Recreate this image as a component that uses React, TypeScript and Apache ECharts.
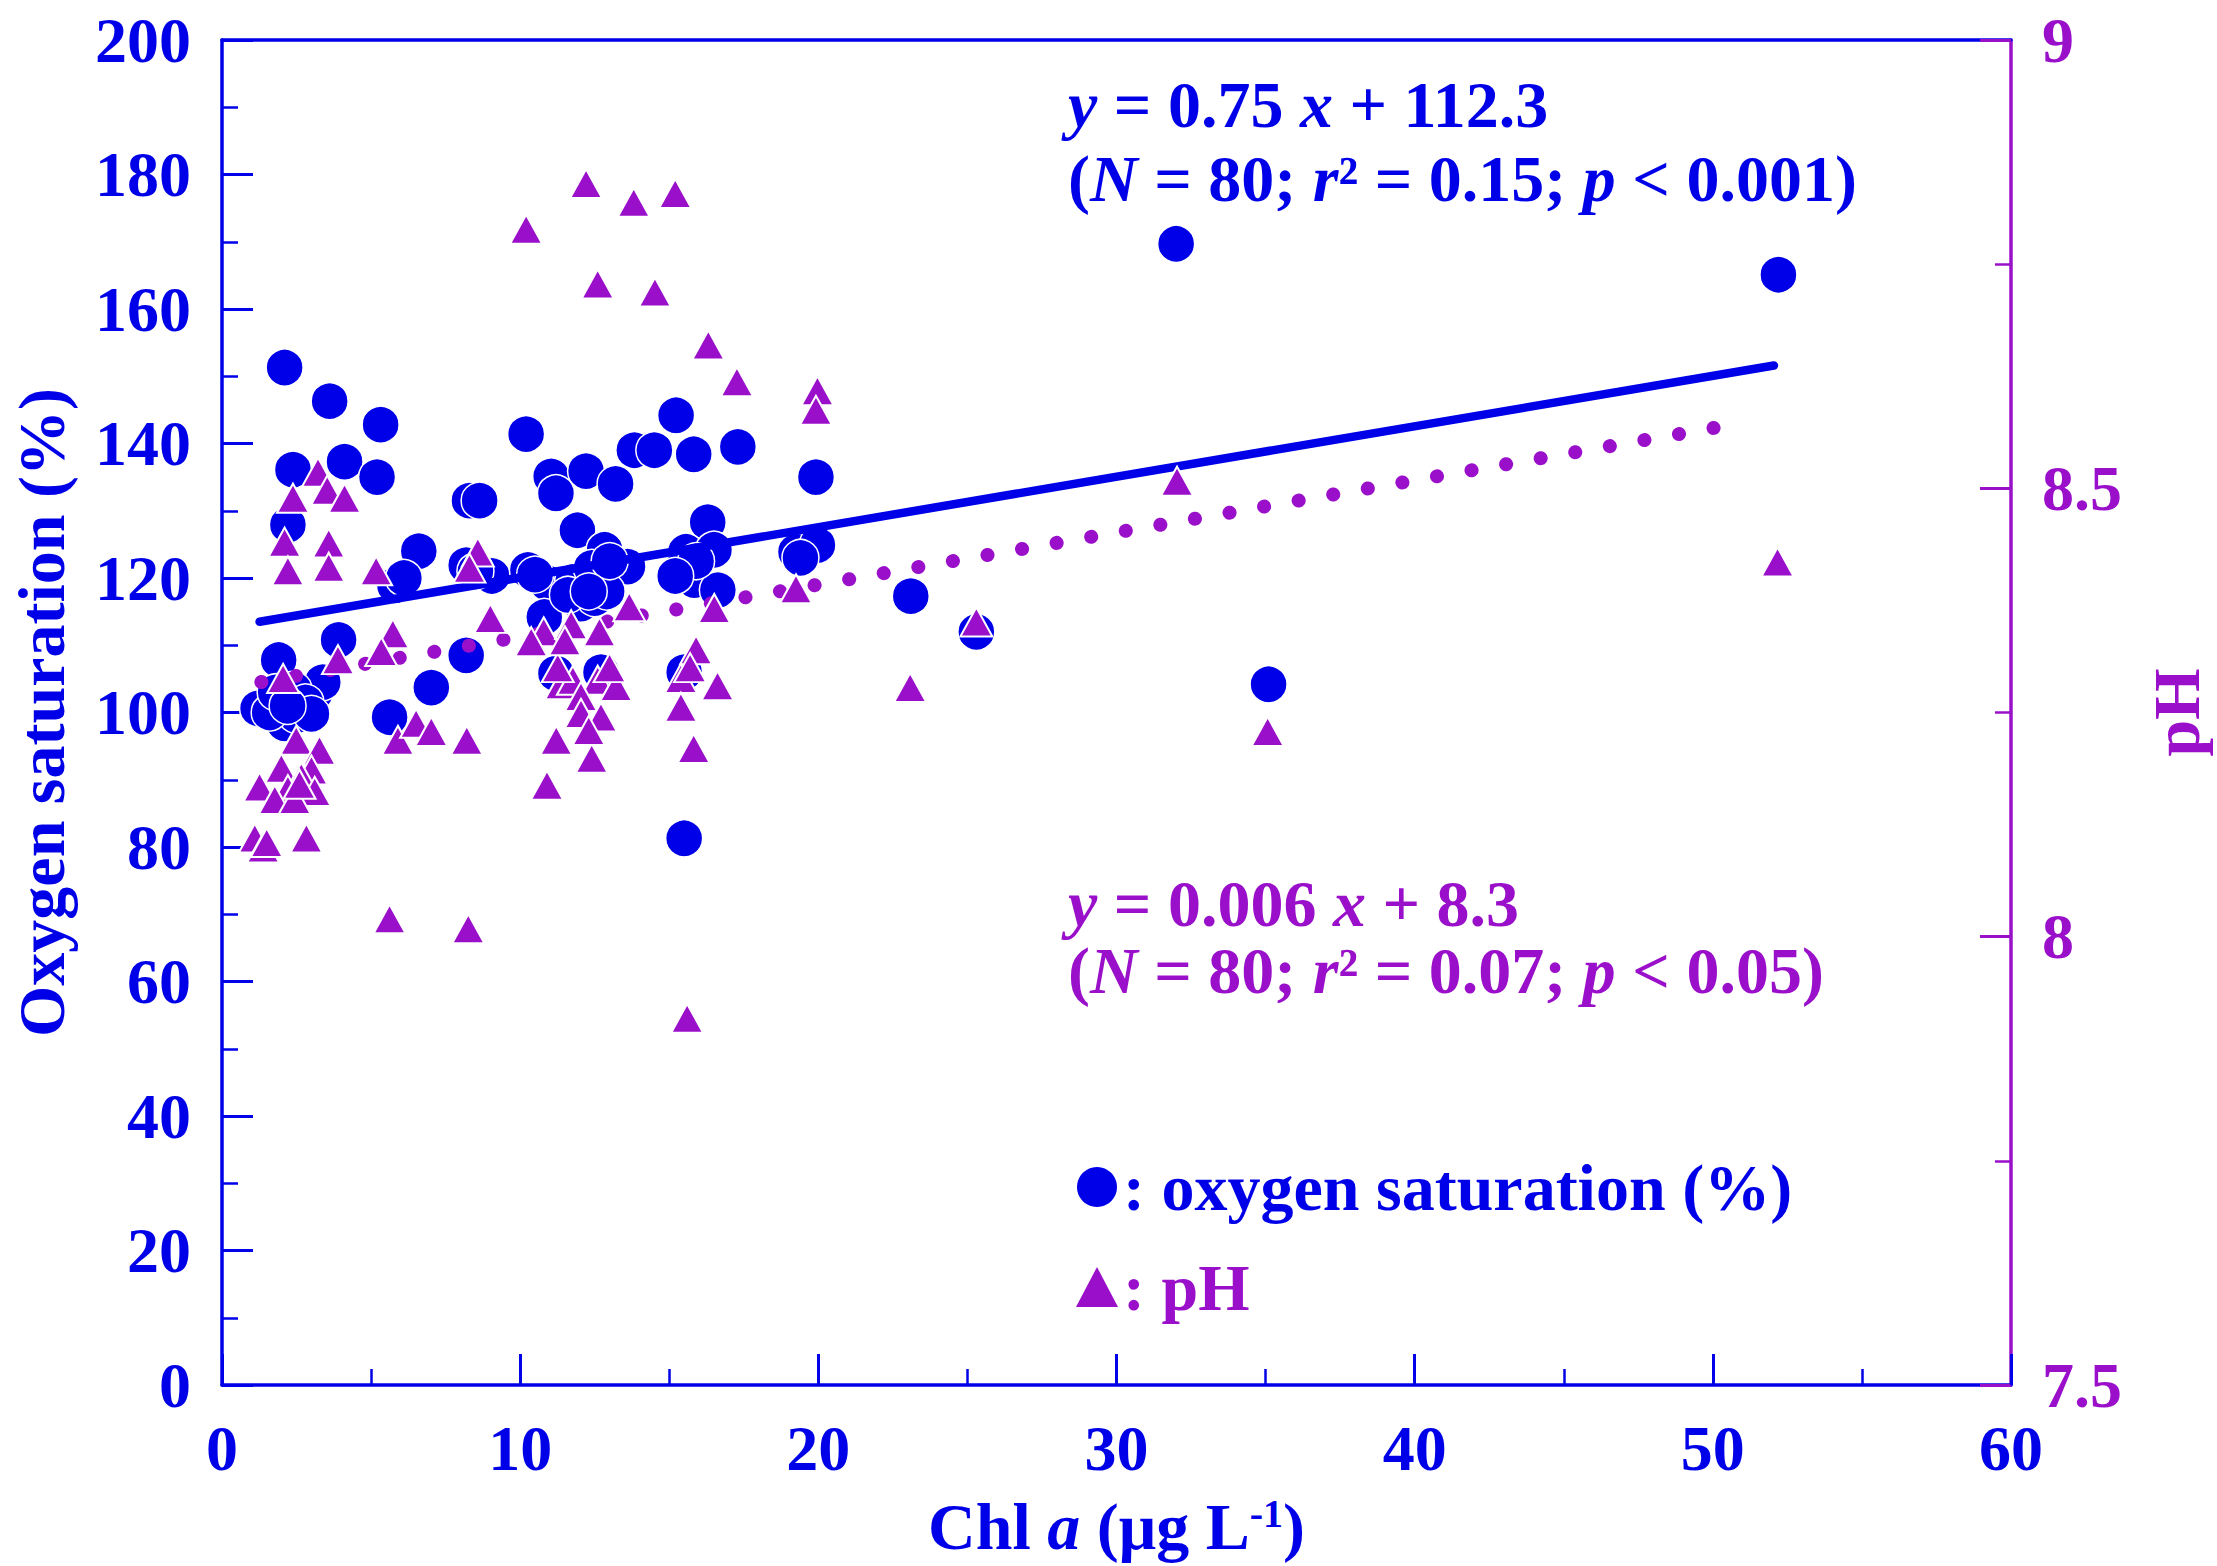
import React, { useEffect, useRef } from "react";
import * as echarts from "echarts";

const BLUE = "#0000E8";
const PURPLE = "#9A10CA";
const FONT = "'Liberation Serif', 'Times New Roman', serif";

// Oxygen saturation (%) vs Chl a
const o2Chl = [
  2.1, 3.61, 5.32, 2.38, 4.11, 5.2, 2.21, 10.2, 11.04, 11.2,
  12.21, 13.2, 8.3, 8.64, 11.92, 6.6, 8.19, 5.8, 6.1, 9.05,
  10.26, 10.93, 12.83, 11.77, 12.71, 12.04, 13.6, 13.83, 14.5, 15.23,
  15.82, 17.3, 19.92, 16.29, 15.56, 16.5, 19.25, 19.97, 15.4, 15.84,
  16.63, 10.81, 12.5, 11.2, 12.71, 15.5, 15.5, 23.1, 25.3, 32.0,
  35.1, 52.2, 3.91, 1.9, 8.19, 7.02, 5.62, 1.21, 1.93, 2.66,
  3.11, 3.38, 2.1, 2.5, 2.4, 1.6, 12.4, 12.9, 10.5, 13.0,
  11.6, 15.9, 2.8, 3.0, 1.8, 19.4, 8.5, 12.3, 15.2, 2.2,
];
const o2Sat = [
  151.3, 146.3, 142.8, 136.1, 137.3, 135.0, 127.9, 141.4, 135.1, 132.6,
  135.9, 134.0, 131.5, 131.5, 127.1, 124.0, 121.9, 118.9, 120.0, 120.3,
  121.2, 119.2, 124.2, 119.4, 119.2, 116.2, 121.7, 139.0, 139.0, 144.2,
  138.4, 139.5, 135.0, 128.3, 123.9, 124.2, 123.9, 124.9, 121.2, 119.7,
  118.2, 114.2, 117.0, 105.8, 106.0, 106.0, 81.3, 117.3, 112.0, 169.7,
  104.2, 165.1, 110.8, 107.8, 108.5, 103.7, 99.3, 100.6, 101.9, 100.4,
  102.9, 104.5, 98.4, 99.6, 103.4, 100.0, 121.5, 118.0, 120.5, 122.5,
  117.5, 122.5, 101.5, 99.8, 103.0, 123.0, 121.0, 118.0, 120.3, 101.0,
];

// pH vs Chl a
const phChl = [
  10.2, 12.21, 13.81, 15.2, 12.6, 14.52, 16.31, 17.27, 19.97, 19.92,
  3.22, 3.53, 4.11, 2.38, 2.1, 3.58, 2.21, 3.58, 5.17, 8.58,
  8.3, 9.0, 5.73, 5.34, 3.89, 2.05, 2.49, 3.27, 1.99, 3.0,
  2.66, 1.26, 2.21, 3.11, 1.77, 2.44, 5.9, 6.51, 7.02, 8.21,
  1.1, 1.38, 2.83, 5.62, 8.26, 10.79, 11.71, 12.66, 10.37, 13.66,
  16.51, 11.37, 11.77, 12.6, 13.22, 12.04, 12.04, 12.71, 11.21, 12.4,
  10.9, 15.9, 15.39, 16.62, 15.39, 15.82, 15.6, 19.25, 23.08, 25.3,
  32.03, 35.07, 52.17, 11.26, 13.0, 12.3, 1.5, 2.6, 15.7, 11.5,
];
const phVal = [
  8.789, 8.84, 8.819, 8.829, 8.728, 8.719, 8.66, 8.619, 8.609, 8.587,
  8.518, 8.498, 8.489, 8.489, 8.44, 8.439, 8.408, 8.412, 8.408, 8.429,
  8.411, 8.355, 8.338, 8.318, 8.309, 8.288, 8.219, 8.208, 8.188, 8.186,
  8.178, 8.167, 8.164, 8.162, 8.153, 8.153, 8.219, 8.238, 8.229, 8.219,
  8.11, 8.099, 8.11, 8.02, 8.009, 8.34, 8.348, 8.34, 8.329, 8.368,
  8.366, 8.281, 8.286, 8.286, 8.279, 8.268, 8.249, 8.245, 8.219, 8.199,
  8.169, 8.32, 8.288, 8.28, 8.256, 8.21, 7.909, 8.388, 8.278, 8.351,
  8.508, 8.229, 8.418, 8.3, 8.3, 8.23, 8.105, 8.17, 8.3, 8.33,
];

// regression line end points (as drawn)
const o2FitChl = [1.26, 52.05];
const o2FitSat = [113.5, 151.6];
const phFitChl = [1.32, 51.0];
const phFitVal = [8.284, 8.573];

const o2Name = "oxygen saturation (%)";
const phName = "pH";

const eqO2 = ["{i|y}{n| = 0.75 }{i|x}{n| + 112.3}", "{n|(}{i|N}{n| = 80; }{i|r}{n|² = 0.15; }{i|p}{n| < 0.001)}"];
const eqPH = ["{i|y}{n| = 0.006 }{i|x}{n| + 8.3}", "{n|(}{i|N}{n| = 80; }{i|r}{n|² = 0.07; }{i|p}{n| < 0.05)}"];

function richFor(color: string) {
  const base = { fill: color, fontSize: 66, fontFamily: FONT, fontWeight: "bold" };
  return { n: { ...base }, i: { ...base, fontStyle: "italic" } };
}

function eqText(text: string, color: string, y: number) {
  return {
    type: "text",
    x: 1068,
    y,
    style: {
      text,
      rich: richFor(color),
      fill: color,
      fontSize: 66,
      fontFamily: FONT,
      fontWeight: "bold",
      align: "left",
      verticalAlign: "middle",
    },
  };
}

const axisLabelStyle = (color: string) => ({
  color,
  fontFamily: FONT,
  fontWeight: "bold",
  fontSize: 64,
  margin: 31,
});

export default function App() {
  const ref = useRef<HTMLDivElement>(null);
  useEffect(() => {
    if (!ref.current) return;
    const chart = echarts.init(ref.current, null, { renderer: "svg" });
    const option: any = {
      animation: false,
      backgroundColor: "#ffffff",
      grid: { left: 221, right: 206, top: 40, bottom: 181 },
      legend: {
        orient: "vertical",
        left: 1071,
        top: 1149,
        itemWidth: 42,
        itemHeight: 40,
        itemGap: 34,
        selectedMode: false,
        formatter: (n: string) => ": " + n,
        itemStyle: { borderWidth: 0 },
        textStyle: { fontFamily: FONT, fontWeight: "bold", fontSize: 66 },
        data: [
          { name: o2Name, icon: "circle", textStyle: { color: BLUE } },
          { name: phName, icon: "triangle", textStyle: { color: PURPLE } },
        ],
      },
      xAxis: [
        {
          type: "value",
          min: 0,
          max: 60,
          interval: 10,
          name: "Chl {i|a} (μg L{s|-1})",
          nameLocation: "middle",
          nameGap: 108,
          nameTextStyle: {
            color: BLUE,
            fontFamily: FONT,
            fontWeight: "bold",
            fontSize: 66,
            rich: {
              i: { color: BLUE, fontFamily: FONT, fontWeight: "bold", fontSize: 66, fontStyle: "italic" },
              s: { color: BLUE, fontFamily: FONT, fontWeight: "bold", fontSize: 40, verticalAlign: "top" },
            },
          },
          axisLine: { onZero: false, lineStyle: { color: BLUE, width: 3.5 } },
          axisTick: { inside: true, length: 31, lineStyle: { color: BLUE, width: 3 } },
          minorTick: { show: true, splitNumber: 2, length: 16, lineStyle: { color: BLUE, width: 2.5 } },
          axisLabel: axisLabelStyle(BLUE),
          splitLine: { show: false },
        },
        {
          type: "value",
          position: "top",
          min: 0,
          max: 60,
          interval: 10,
          axisLine: { onZero: false, lineStyle: { color: BLUE, width: 3.5 } },
          axisTick: { show: false },
          axisLabel: { show: false },
          splitLine: { show: false },
        },
      ],
      yAxis: [
        {
          type: "value",
          position: "left",
          min: 0,
          max: 200,
          interval: 20,
          name: "Oxygen saturation (%)",
          nameLocation: "middle",
          nameGap: 148,
          nameTextStyle: { color: BLUE, fontFamily: FONT, fontWeight: "bold", fontSize: 66 },
          axisLine: { onZero: false, lineStyle: { color: BLUE, width: 3.5 } },
          axisTick: { inside: true, length: 31, lineStyle: { color: BLUE, width: 3 } },
          minorTick: { show: true, splitNumber: 2, length: 16, lineStyle: { color: BLUE, width: 2.5 } },
          axisLabel: axisLabelStyle(BLUE),
          splitLine: { show: false },
        },
        {
          type: "value",
          position: "right",
          min: 7.5,
          max: 9,
          interval: 0.5,
          name: "pH",
          nameLocation: "middle",
          nameGap: 132,
          nameTextStyle: { color: PURPLE, fontFamily: FONT, fontWeight: "bold", fontSize: 66 },
          axisLine: { onZero: false, lineStyle: { color: PURPLE, width: 3.5 } },
          axisTick: { inside: true, length: 31, lineStyle: { color: PURPLE, width: 3 } },
          minorTick: { show: true, splitNumber: 2, length: 16, lineStyle: { color: PURPLE, width: 2.5 } },
          axisLabel: axisLabelStyle(PURPLE),
          splitLine: { show: false },
        },
      ],
      series: [
        {
          name: o2Name,
          type: "scatter",
          yAxisIndex: 0,
          symbol: "circle",
          symbolSize: 37,
          itemStyle: { color: BLUE, borderColor: "#ffffff", borderWidth: 1.5, opacity: 1 },
          data: o2Chl.map((x, i) => [x, o2Sat[i]]),
          z: 2,
        },
        {
          name: "o2fit",
          type: "line",
          yAxisIndex: 0,
          symbol: "none",
          lineStyle: { color: BLUE, width: 8.5, cap: "round" },
          data: o2FitChl.map((x, i) => [x, o2FitSat[i]]),
          z: 3,
        },
        {
          name: "phfit",
          type: "line",
          yAxisIndex: 1,
          symbol: "none",
          lineStyle: { color: PURPLE, width: 14, type: [0.1, 35], cap: "round" },
          data: phFitChl.map((x, i) => [x, phFitVal[i]]),
          z: 4,
        },
        {
          name: phName,
          type: "scatter",
          yAxisIndex: 1,
          symbol: "triangle",
          symbolSize: [32, 29],
          itemStyle: { color: PURPLE, borderColor: "#ffffff", borderWidth: 2, opacity: 1 },
          data: phChl.map((x, i) => [x, phVal[i]]),
          z: 5,
        },
      ],
      graphic: [
        eqText(eqO2[0], BLUE, 104),
        eqText(eqO2[1], BLUE, 178),
        eqText(eqPH[0], PURPLE, 903),
        eqText(eqPH[1], PURPLE, 970),
      ],
    };
    chart.setOption(option);
    return () => chart.dispose();
  }, []);
  return (
    <div
      ref={ref}
      style={{ position: "absolute", left: 0, top: 0, width: 2217, height: 1566, background: "#fff" }}
    />
  );
}
